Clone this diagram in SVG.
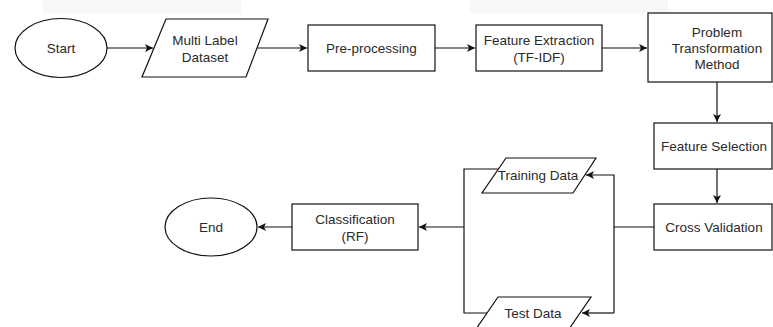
<svg xmlns="http://www.w3.org/2000/svg" width="773" height="327" viewBox="0 0 773 327">
<style>
.s{fill:#fff;stroke:#111;stroke-width:1.2}
.t{font-family:"Liberation Sans",Arial,sans-serif;font-size:13.5px;fill:#2a2a2a;text-anchor:middle}
.c{fill:none;stroke:#111;stroke-width:1.2}
</style>
<defs>
<marker id="a" markerWidth="10" markerHeight="10" refX="9" refY="5" orient="auto" markerUnits="userSpaceOnUse">
<path d="M1,1 L9,5 L1,9 L3,5 Z" fill="#111"/>
</marker>
</defs>
<rect width="773" height="327" fill="#fff"/>
<rect x="43" y="0" width="198" height="13" fill="#f7f7f7"/>
<rect x="470" y="0" width="198" height="13" fill="#f7f7f7"/>
<g id="connectors">
<path class="c" d="M107,48 H153" marker-end="url(#a)"/>
<path class="c" d="M257,48 H307" marker-end="url(#a)"/>
<path class="c" d="M435,48 H475" marker-end="url(#a)"/>
<path class="c" d="M602,48 H647" marker-end="url(#a)"/>
<path class="c" d="M717,82 V122" marker-end="url(#a)"/>
<path class="c" d="M717,169 V203" marker-end="url(#a)"/>
<path class="c" d="M654,227 H614"/>
<path class="c" d="M614,313 V175 H586" marker-end="url(#a)"/>
<path class="c" d="M614,313 H582" marker-end="url(#a)"/>
<path class="c" d="M498,169 H464 V313 H487"/>
<path class="c" d="M464,227 H419" marker-end="url(#a)"/>
<path class="c" d="M292,227 H258" marker-end="url(#a)"/>
</g>
<g id="start"><ellipse class="s" cx="61" cy="48" rx="46" ry="29.5"/><text class="t" x="61" y="53">Start</text></g>
<g id="dataset"><polygon class="s" points="166,19 268,19 246,77 142,77"/><text class="t" x="205" y="45">Multi Label</text><text class="t" x="205" y="62">Dataset</text></g>
<g id="preprocessing"><rect class="s" x="308" y="25" width="127" height="46"/><text class="t" x="371.5" y="53">Pre-processing</text></g>
<g id="feature-extraction"><rect class="s" x="476" y="25" width="126" height="46"/><text class="t" x="539" y="45">Feature Extraction</text><text class="t" x="539" y="62">(TF-IDF)</text></g>
<g id="problem-transformation"><rect class="s" x="648" y="13" width="124" height="69"/><text class="t" x="717" y="37">Problem</text><text class="t" x="717" y="53">Transformation</text><text class="t" x="717" y="69">Method</text></g>
<g id="feature-selection"><rect class="s" x="654" y="123" width="118" height="46"/><text class="t" x="714" y="151">Feature Selection</text></g>
<g id="cross-validation"><rect class="s" x="654" y="204" width="118" height="46"/><text class="t" x="714" y="232">Cross Validation</text></g>
<g id="training-data"><polygon class="s" points="506,158 596,158 573,193 482,193"/><text class="t" x="538" y="180">Training Data</text></g>
<g id="test-data"><polygon class="s" points="498,297 591,297 567,332 474,332"/><text class="t" x="533" y="318">Test Data</text></g>
<g id="classification"><rect class="s" x="292" y="204" width="126" height="46"/><text class="t" x="355" y="224">Classification</text><text class="t" x="355" y="241">(RF)</text></g>
<g id="end"><ellipse class="s" cx="211" cy="227" rx="46" ry="29"/><text class="t" x="211" y="232">End</text></g>
</svg>
